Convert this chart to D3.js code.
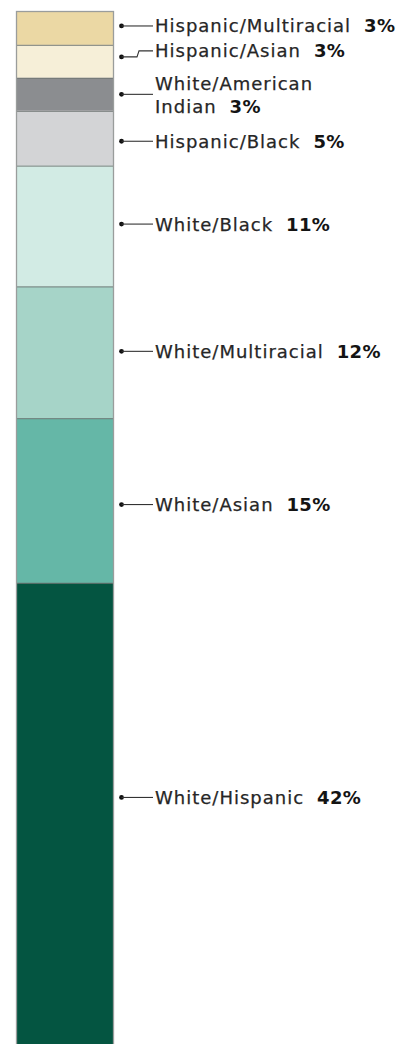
<!DOCTYPE html>
<html>
<head>
<meta charset="utf-8">
<script src="https://cdn.jsdelivr.net/npm/d3@7"></script>
<style>
  html, body { margin: 0; padding: 0; background: #fff; }
  svg { display: block; }
</style>
</head>
<body>
<svg id="chart" width="396" height="1044"></svg>
<script>
// Multiracial pairings, top of the bar to the bottom
const categories = [
  "Hispanic/Multiracial",
  "Hispanic/Asian",
  "White/American Indian",
  "Hispanic/Black",
  "White/Black",
  "White/Multiracial",
  "White/Asian",
  "White/Hispanic"
];
const shares = [3, 3, 3, 5, 11, 12, 15, 42];
const percentLabels = ["3%", "3%", "3%", "5%", "11%", "12%", "15%", "42%"];
// Label text lines (long names wrap onto two lines)
const labelLines = [
  ["Hispanic/Multiracial"],
  ["Hispanic/Asian"],
  ["White/American", "Indian"],
  ["Hispanic/Black"],
  ["White/Black"],
  ["White/Multiracial"],
  ["White/Asian"],
  ["White/Hispanic"]
];
const colors = ["#ebd8a4", "#f6efd8", "#8b8d90", "#d3d4d6", "#d2ebe4", "#a6d4c8", "#65b7a7", "#045541"];

// Layout nudges (px) applied to the leader dot and label positions
const dotNudge   = [-2.5, -4.5, 0, 3, -2, -1, 4, -16];
const labelNudge = [0, -6, 0, 0, 0, 0, 0, 0];

const svg = d3.select("#chart");
const barX0 = 17, barX1 = 113;
const total = d3.sum(shares);

const y = d3.scaleLinear().domain([0, total]).range([12, 1044]);

const stacked = [];
let acc = 0;
shares.forEach((v, i) => {
  stacked.push({ i, name: categories[i], v, y0: acc, y1: acc + v });
  acc += v;
});

// Bar segments
svg.append("g").selectAll("rect")
  .data(stacked)
  .join("rect")
  .attr("x", barX0)
  .attr("y", d => y(d.y0))
  .attr("width", barX1 - barX0)
  .attr("height", d => y(d.y1) - y(d.y0))
  .attr("fill", d => colors[d.i]);

// Segment separators
svg.append("g").selectAll("line")
  .data(stacked.slice(1))
  .join("line")
  .attr("x1", barX0).attr("x2", barX1)
  .attr("y1", d => y(d.y0) + 0.5).attr("y2", d => y(d.y0) + 0.5)
  .attr("stroke", "#6f7573").attr("stroke-opacity", 0.75).attr("stroke-width", 1.2);

// Bar outline
svg.append("rect")
  .attr("x", barX0 - 0.5).attr("y", y(0) - 0.5)
  .attr("width", barX1 - barX0 + 1).attr("height", y(total) - y(0) + 2)
  .attr("fill", "none")
  .attr("stroke", "#9a9d9c").attr("stroke-width", 1.3);

// Leader lines and labels
const dotX = 121.5, elbowX = 137, textX = 155;
const g = svg.append("g");

stacked.forEach(d => {
  const dotY = (y(d.y0) + y(d.y1)) / 2 + dotNudge[d.i];
  const lineY = dotY + labelNudge[d.i];

  g.append("circle")
    .attr("cx", dotX).attr("cy", dotY).attr("r", 2.4)
    .attr("fill", "#111");

  const path = d3.path();
  path.moveTo(dotX, dotY);
  if (lineY !== dotY) {
    path.lineTo(elbowX, dotY);
    path.lineTo(elbowX + 2, lineY);
  }
  path.lineTo(textX - 2, lineY);
  g.append("path")
    .attr("d", path.toString())
    .attr("fill", "none")
    .attr("stroke", "#333")
    .attr("stroke-width", 1.1);

  const lines = labelLines[d.i];
  const lineGap = 23;
  const firstBaseline = lines.length === 1 ? lineY + 6.5 : lineY - 4;

  const text = g.append("text")
    .attr("x", textX)
    .attr("y", firstBaseline)
    .attr("font-family", "'DejaVu Sans', Verdana, sans-serif")
    .attr("font-size", 18)
    .attr("letter-spacing", 1)
    .attr("fill", "#262626")
    .attr("stroke", "#262626")
    .attr("stroke-width", 0.25);

  lines.forEach((ln, k) => {
    text.append("tspan")
      .attr("x", textX)
      .attr("y", firstBaseline + k * lineGap)
      .text(ln);
    if (k === lines.length - 1) {
      text.append("tspan")
        .attr("dx", 13)
        .attr("font-weight", "bold")
        .attr("letter-spacing", 0.3)
        .attr("fill", "#141414")
        .attr("stroke", "none")
        .text(percentLabels[d.i]);
    }
  });
});
</script>
</body>
</html>
